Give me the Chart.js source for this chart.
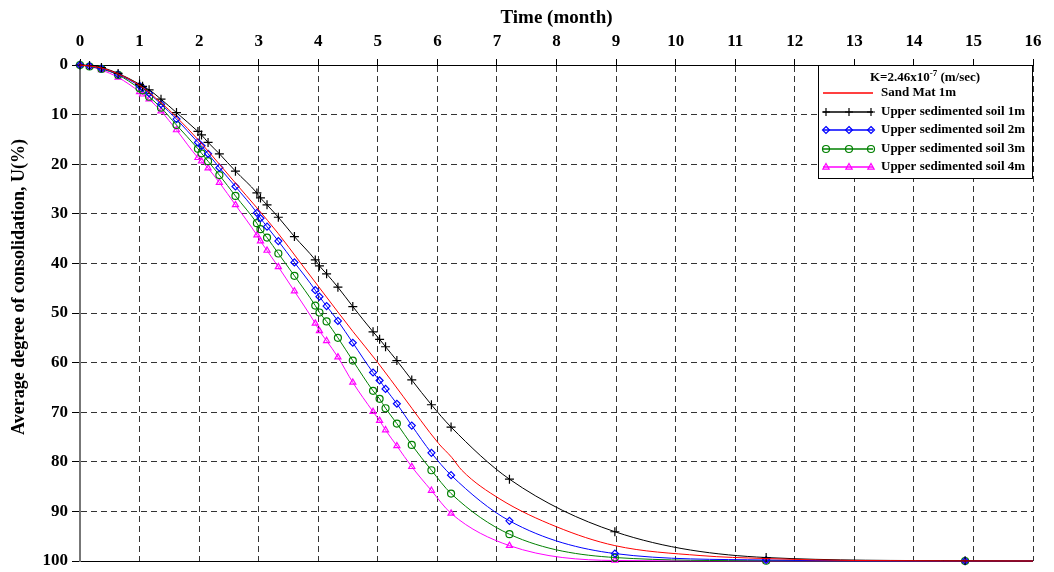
<!DOCTYPE html>
<html>
<head>
<meta charset="utf-8">
<script src="https://cdn.jsdelivr.net/npm/chart.js@4.4.1/dist/chart.umd.min.js"></script>
<style>
html, body { margin: 0; padding: 0; background: #fff; }
#wrap { width: 1054px; height: 572px; position: relative; }
</style>
</head>
<body>
<div id="wrap"><canvas id="consolChart"></canvas></div>
<script>
// time (month) of the plotted markers; last value only carries the line to the edge
const months = [0, 0.16, 0.36, 0.64, 1.0, 1.05, 1.16, 1.36, 1.62, 1.98, 2.04, 2.15, 2.34, 2.61,
  2.97, 3.03, 3.14, 3.33, 3.6, 3.95, 4.02, 4.14, 4.33, 4.58, 4.92, 5.03, 5.13, 5.32, 5.57,
  5.9, 6.23, 7.21, 8.98, 11.52, 14.86, 16];

const soil1m = [0, 0.1, 0.5, 1.7, 3.9, 4.3, 5.0, 6.9, 9.6, 13.4, 14.1, 15.6, 17.9, 21.4,
  25.8, 26.8, 28.2, 30.7, 34.6, 39.3, 40.5, 42.1, 44.8, 48.7, 53.8, 55.3, 56.8, 59.6, 63.5,
  68.5, 73.0, 83.5, 94.1, 99.3, 99.95, 100];
const soil2m = [0, 0.2, 0.7, 1.9, 4.2, 4.6, 5.7, 7.9, 10.9, 15.6, 16.3, 17.9, 20.7, 24.5,
  29.8, 30.9, 32.6, 35.5, 39.8, 45.4, 46.7, 48.6, 51.6, 56.0, 62.0, 63.6, 65.3, 68.3, 72.7,
  78.2, 82.7, 91.9, 98.5, 99.8, 100, 100];
const soil3m = [0, 0.3, 0.8, 2.0, 4.7, 5.1, 6.4, 8.6, 12.1, 16.9, 17.8, 19.4, 22.2, 26.4,
  31.9, 33.1, 34.8, 38.0, 42.5, 48.5, 49.9, 51.7, 55.0, 59.6, 65.7, 67.3, 69.2, 72.3, 76.6,
  81.7, 86.4, 94.6, 99.3, 99.95, 100, 100];
const soil4m = [0, 0.3, 1.0, 2.5, 5.4, 5.9, 6.9, 9.3, 13.1, 18.7, 19.4, 20.8, 23.7, 28.2,
  34.3, 35.5, 37.4, 40.7, 45.6, 52.1, 53.6, 55.6, 58.9, 64.0, 69.9, 71.7, 73.6, 76.8, 81.0,
  85.8, 90.4, 96.9, 99.9, 100, 100, 100];

// sand mat curve has no markers
const sandMonths = [0, 0.16, 0.36, 0.64, 1.0, 1.36, 1.62, 2.0, 2.34, 2.61, 2.97, 3.33, 3.69,
  4.0, 4.33, 4.58, 5.0, 5.43, 6.02, 6.24, 6.41, 7.05, 8.0, 8.98, 10.41, 11.5, 13, 16];
const sandMat1m = [0, 0.2, 0.6, 1.8, 4.1, 7.6, 10.5, 15.3, 20.0, 23.8, 28.8, 34.0, 39.7,
  44.6, 49.8, 53.7, 60.0, 66.9, 76.3, 79.1, 81.7, 87.5, 93.1, 96.9, 98.9, 99.5, 99.9, 100];

const xTicks = [0, 16, 1];
const yTicks = [0, 100, 10];
const yTitle = 'Average degree of consolidation, U(%)';

const serif = "'Liberation Serif', 'Times New Roman', serif";
const toPts = (xs, ys) => xs.map((x, i) => ({ x: x, y: ys[i] }));

function markerSeries(label, color, style, ys) {
  return {
    label: label,
    data: toPts(months, ys),
    borderColor: color,
    backgroundColor: 'rgba(0,0,0,0)',
    borderWidth: 1,
    pointStyle: style,
    pointRadius: ctx => (ctx.raw && ctx.raw.x >= 16 ? 0 : (style === 'cross' ? 4.5 : 3.5)),
    pointBorderColor: color,
    pointBorderWidth: 1.2,
    pointHoverRadius: 0,
    cubicInterpolationMode: 'monotone',
    clip: false
  };
}

const datasets = [
  {
    label: 'Sand Mat 1m',
    data: toPts(sandMonths, sandMat1m),
    borderColor: '#ff0000',
    borderWidth: 1,
    pointRadius: 0,
    pointStyle: false,
    cubicInterpolationMode: 'monotone',
    clip: false
  },
  markerSeries('Upper sedimented soil 1m', '#000000', 'cross', soil1m),
  markerSeries('Upper sedimented soil 2m', '#0000ff', 'rectRot', soil2m),
  markerSeries('Upper sedimented soil 3m', '#008000', 'circle', soil3m),
  markerSeries('Upper sedimented soil 4m', '#ff00ff', 'triangle', soil4m)
];

function drawMark(ctx, style, x, y, r) {
  ctx.beginPath();
  if (style === 'cross') {
    ctx.moveTo(x - r, y); ctx.lineTo(x + r, y);
    ctx.moveTo(x, y - r); ctx.lineTo(x, y + r);
  } else if (style === 'rectRot') {
    ctx.moveTo(x, y - r); ctx.lineTo(x + r, y); ctx.lineTo(x, y + r); ctx.lineTo(x - r, y);
    ctx.closePath();
  } else if (style === 'circle') {
    ctx.arc(x, y, r, 0, Math.PI * 2);
  } else if (style === 'triangle') {
    ctx.moveTo(x, y - r); ctx.lineTo(x + r * 0.9, y + r * 0.6); ctx.lineTo(x - r * 0.9, y + r * 0.6);
    ctx.closePath();
  }
  ctx.stroke();
}

// boxed legend in the upper right corner, plus the y title placed like the original
const boxLegend = {
  id: 'boxLegend',
  afterDraw(chart) {
    const ctx = chart.ctx;
    const area = chart.chartArea;
    const bx = 818, by = area.top, bw = area.right - 1 - 818, bh = 113;
    ctx.save();
    ctx.fillStyle = '#fff';
    ctx.fillRect(bx, by, bw, bh);
    ctx.strokeStyle = '#000';
    ctx.lineWidth = 1;
    ctx.strokeRect(bx + 0.5, by + 0.5, bw, bh);

    // title K=2.46x10^-7 (m/sec)
    ctx.fillStyle = '#000';
    ctx.textBaseline = 'middle';
    const main = 'bold 13px ' + serif, sup = 'bold 9px ' + serif;
    const p1 = 'K=2.46x10', p2 = '-7', p3 = ' (m/sec)';
    ctx.font = main; const w1 = ctx.measureText(p1).width, w3 = ctx.measureText(p3).width;
    ctx.font = sup; const w2 = ctx.measureText(p2).width;
    let tx = 925 - (w1 + w2 + w3) / 2;
    const ty = by + 13;
    ctx.font = main; ctx.fillText(p1, tx, ty); tx += w1;
    ctx.font = sup; ctx.fillText(p2, tx, ty - 4); tx += w2;
    ctx.font = main; ctx.fillText(p3, tx, ty);

    ctx.font = main;
    chart.data.datasets.forEach((ds, i) => {
      const y = Math.round(by + 28 + i * 18.5);
      ctx.strokeStyle = ds.borderColor;
      ctx.lineWidth = 1.3;
      ctx.beginPath(); ctx.moveTo(823, y); ctx.lineTo(873, y); ctx.stroke();
      if (ds.pointStyle) {
        ctx.lineWidth = 1.2;
        [826, 849, 871].forEach(mx => drawMark(ctx, ds.pointStyle, mx, y, ds.pointStyle === 'cross' ? 4 : 3.5));
      }
      ctx.fillStyle = '#000';
      ctx.fillText(ds.label, 881, y);
    });

    // y axis title
    ctx.translate(19, 287);
    ctx.rotate(-Math.PI / 2);
    ctx.textAlign = 'center';
    ctx.font = 'bold 18px ' + serif;
    ctx.fillText(yTitle, 0, 0);
    ctx.restore();
  }
};

const gridDash = ctx => (ctx.tick && (ctx.tick.value === 100) ? [] : [6, 4]);

new Chart(document.getElementById('consolChart'), {
  type: 'line',
  data: { datasets: datasets },
  plugins: [boxLegend],
  options: {
    responsive: true,
    maintainAspectRatio: false,
    animation: false,
    events: [],
    layout: { padding: { top: 0, right: 21, bottom: 11, left: 0 } },
    plugins: { legend: { display: false }, tooltip: { enabled: false } },
    scales: {
      x: {
        type: 'linear',
        position: 'top',
        min: xTicks[0], max: xTicks[1],
        ticks: { stepSize: xTicks[2], color: '#000', padding: 7, font: { family: serif, size: 17, weight: 'bold' } },
        grid: { color: '#333', lineWidth: 1, tickLength: 6, tickColor: '#000', tickBorderDash: [] },
        border: { display: true, color: '#000', width: 1, dash: gridDash },
        title: { display: true, text: 'Time (month)', color: '#000', padding: { top: 7, bottom: 0 },
          font: { family: serif, size: 19, weight: 'bold' } },
        afterFit: s => { s.height = 65; }
      },
      y: {
        type: 'linear',
        reverse: true,
        min: yTicks[0], max: yTicks[1],
        ticks: { stepSize: yTicks[2], color: '#000', padding: 4, font: { family: serif, size: 17, weight: 'bold' } },
        grid: { color: ctx => (ctx.tick && ctx.tick.value === 100 ? '#000' : '#333'), lineWidth: 1, tickLength: 8, tickColor: '#000', tickBorderDash: [] },
        border: { display: true, color: '#777', width: 2, dash: gridDash },
        title: { display: false },
        afterFit: s => { s.width = 80; s.paddingTop = 0; s.paddingBottom = 0; }
      }
    }
  }
});
</script>
</body>
</html>
